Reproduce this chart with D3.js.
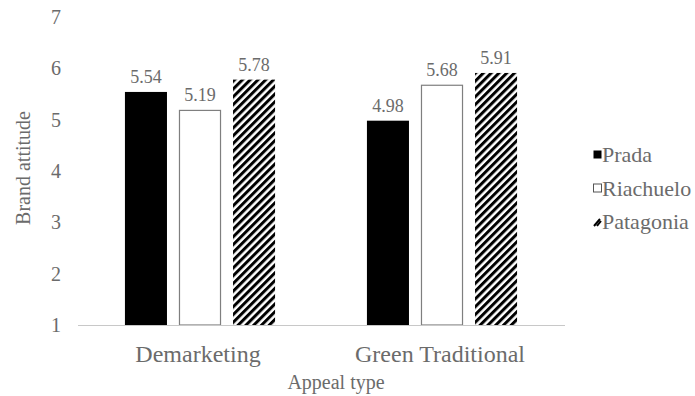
<!DOCTYPE html>
<html>
<head>
<meta charset="utf-8">
<script src="https://cdn.jsdelivr.net/npm/d3@7"></script>
<style>
  body { margin: 0; background: #fff; }
</style>
</head>
<body>
<svg id="my_svg"></svg>
<script>
const width = 695;
const height = 396;
const serif = 'Liberation Serif';
const textColor = '#6b6b6b';

// data
const categories = ['Demarketing', 'Green Traditional'];
const series = ['Prada', 'Riachuelo', 'Patagonia'];
const prada = [5.54, 4.98];
const riachuelo = [5.19, 5.68];
const patagonia = [5.78, 5.91];
const yTicks = [1, 2, 3, 4, 5, 6, 7];

const values = { Prada: prada, Riachuelo: riachuelo, Patagonia: patagonia };

const svg = d3.select('#my_svg')
  .attr('width', width)
  .attr('height', height)
  .attr('font-family', serif);

// hatch pattern for Patagonia
const defs = svg.append('defs');
const hatch = defs.append('pattern')
  .attr('id', 'hatch')
  .attr('patternUnits', 'userSpaceOnUse')
  .attr('width', 5.5)
  .attr('height', 5.5)
  .attr('patternTransform', 'rotate(45)');
hatch.append('rect')
  .attr('width', 5.5)
  .attr('height', 5.5)
  .attr('fill', '#fff');
hatch.append('rect')
  .attr('width', 3)
  .attr('height', 5.5)
  .attr('fill', '#000');

const fills = { Prada: '#000', Riachuelo: '#fff', Patagonia: 'url(#hatch)' };
const strokes = { Prada: 'none', Riachuelo: '#7f7f7f', Patagonia: 'none' };

// scales
const x0 = d3.scaleBand()
  .domain(categories)
  .range([79, 563]);

const x1 = d3.scaleBand()
  .domain(series)
  .range([0, x0.bandwidth()])
  .paddingInner(12 / 54)
  .paddingOuter(0.85);

const y = d3.scaleLinear()
  .domain([1, 7])
  .range([325, 17]);

// y axis: labels only
const yAxis = d3.axisLeft(y)
  .tickValues(yTicks)
  .tickSize(0)
  .tickPadding(0)
  .tickFormat(d3.format('d'));

svg.append('g')
  .attr('transform', 'translate(61, 0)')
  .call(yAxis)
  .attr('font-family', serif)
  .attr('font-size', 20)
  .call(g => g.select('.domain').remove())
  .call(g => g.selectAll('text')
    .attr('font-family', serif)
    .attr('font-size', 20)
    .attr('fill', textColor));

// bars
const groups = svg.append('g')
  .selectAll('g')
  .data(categories)
  .enter()
  .append('g')
  .attr('transform', d => `translate(${x0(d)}, 0)`);

const bars = groups.selectAll('g')
  .data((c, i) => series.map(s => ({ series: s, value: values[s][i] })))
  .enter()
  .append('g');

bars.append('rect')
  .attr('x', d => x1(d.series) + (d.series === 'Riachuelo' ? 0.5 : 0))
  .attr('y', d => y(d.value) + (d.series === 'Riachuelo' ? 0.5 : 0))
  .attr('width', d => x1.bandwidth() - (d.series === 'Riachuelo' ? 1 : 0))
  .attr('height', d => y(1) - y(d.value) - (d.series === 'Riachuelo' ? 0.5 : 0))
  .attr('fill', d => fills[d.series])
  .attr('stroke', d => strokes[d.series])
  .attr('stroke-width', 1.2);

bars.append('text')
  .attr('x', d => x1(d.series) + x1.bandwidth() / 2)
  .attr('y', d => y(d.value) - 9)
  .attr('text-anchor', 'middle')
  .attr('font-family', serif)
  .attr('font-size', 18)
  .attr('fill', textColor)
  .text(d => d.value.toFixed(2));

// baseline
svg.append('line')
  .attr('x1', 78)
  .attr('x2', 565)
  .attr('y1', y(1) + 0.5)
  .attr('y2', y(1) + 0.5)
  .attr('stroke', '#c8c8c8')
  .attr('stroke-width', 1);

// category labels
svg.append('g')
  .selectAll('text')
  .data(categories)
  .enter()
  .append('text')
  .attr('x', d => x0(d) + x0.bandwidth() / 2 - 2)
  .attr('y', 362)
  .attr('text-anchor', 'middle')
  .attr('font-family', serif)
  .attr('font-size', 24)
  .attr('fill', textColor)
  .text(d => d);

// axis titles
svg.append('text')
  .attr('x', 336)
  .attr('y', 389)
  .attr('text-anchor', 'middle')
  .attr('font-family', serif)
  .attr('font-size', 20)
  .attr('fill', textColor)
  .text('Appeal type');

svg.append('text')
  .attr('x', 30)
  .attr('y', 168)
  .attr('text-anchor', 'middle')
  .attr('font-family', serif)
  .attr('font-size', 20)
  .attr('fill', textColor)
  .attr('transform', 'rotate(-90, 30, 168)')
  .text('Brand attitude');

// legend
const legend = svg.append('g')
  .attr('transform', 'translate(593, 0)');

const legendY = d3.scalePoint()
  .domain(series)
  .range([155, 222]);

const item = legend.selectAll('g')
  .data(series)
  .enter()
  .append('g')
  .attr('transform', d => `translate(0, ${legendY(d)})`);

item.append('rect')
  .attr('x', 0.5)
  .attr('y', -4.5)
  .attr('width', 8)
  .attr('height', 8)
  .attr('fill', d => d === 'Patagonia' ? 'none' : fills[d])
  .attr('stroke', d => d === 'Riachuelo' ? '#555' : 'none');

item.filter(d => d === 'Patagonia')
  .append('path')
  .attr('d', 'M1,4 L7,-3 M4,4 L8,-1')
  .attr('stroke', '#000')
  .attr('stroke-width', 2);

item.append('text')
  .attr('x', 9)
  .attr('y', 7)
  .attr('font-family', serif)
  .attr('font-size', 22)
  .attr('fill', textColor)
  .text(d => d);
</script>
</body>
</html>
